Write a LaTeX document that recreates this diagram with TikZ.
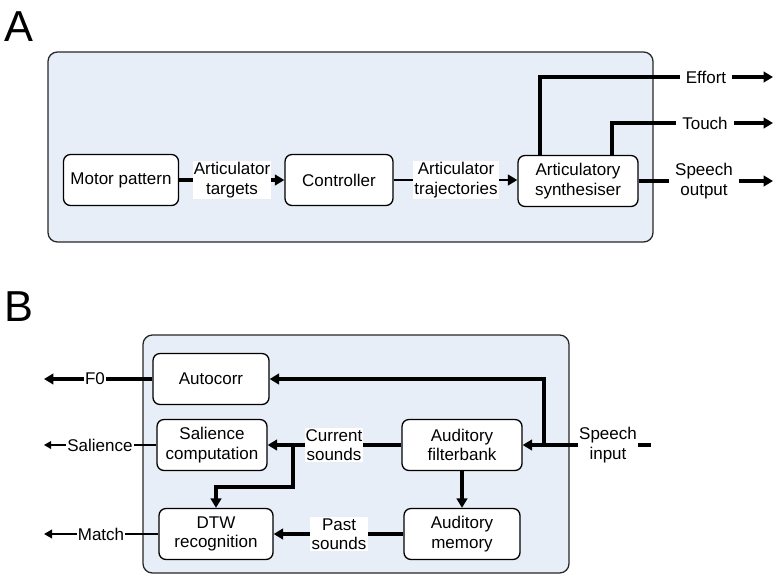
\documentclass[tikz,border=0pt]{standalone}
\usepackage{fontspec}
\setmainfont{Liberation Sans}
\usetikzlibrary{arrows.meta}
\definecolor{panelblue}{RGB}{232,238,248}

\begin{document}
\begin{tikzpicture}[x=0.03cm,y=-0.03cm,
  font=\fontsize{14.5}{16.5}\selectfont,
  panel/.style={draw=black!85,line width=1.1pt,fill=panelblue,rounded corners=8pt},
  block/.style={draw=black,line width=1.1pt,fill=white,rounded corners=6pt,
    minimum height=1.53cm,align=center,inner sep=0pt},
  lbl/.style={fill=white,align=center,inner sep=1pt},
  outlbl/.style={fill=white,align=center,inner ysep=1pt,inner xsep=5pt},
  wire/.style={line width=2.6pt},
  arr/.style={line width=2.6pt,-{Triangle[length=8pt,width=9pt]}}]
\useasboundingbox (0,0) rectangle (778,579);
% Panel letters
\node[anchor=base west,inner sep=0pt,font=\fontsize{37}{37}\selectfont] (letA) at (4,41) {A};
\node[anchor=base west,inner sep=0pt,font=\fontsize{37}{37}\selectfont] (letB) at (4,321) {B};
% Panel A
\draw[panel] (48,52) rectangle (653,242);
\node[block,minimum width=3.45cm] (motor) at (121,180) {Motor pattern};
\node[block,minimum width=3.24cm] (ctrl) at (339,180) {Controller};
\node[block,minimum width=3.6cm] (synth) at (578,181) {Articulatory\\synthesiser};
% Outputs
\node[outlbl] (effort) at (706,77) {Effort};
\node[outlbl] (touch) at (705,123) {Touch};
\node[outlbl] (speech) at (704,181) {Speech\\output};
\coordinate (effbend) at (540,77);
\coordinate (touchbend) at (612,123);
\coordinate (effend) at (773,77);
\coordinate (touchend) at (773,123);
\coordinate (speechend) at (773,181);
% Arrows
\draw[arr] (motor.east) -- (ctrl.west);
\draw[arr,line width=2pt] (ctrl.east) -- (ctrl.east -| synth.west);
\draw[wire,line width=3pt] (synth.north -| effbend) -- (effbend) -- (effort.west);
\draw[wire,line width=3pt] (synth.north -| touchbend) -- (touchbend) -- (touch.west);
\draw[wire] (synth.east) -- (speech.west);
\draw[arr] (effort.east) -- (effend);
\draw[arr] (touch.east) -- (touchend);
\draw[arr] (speech.east) -- (speechend);
% Labels
\node[lbl] (targets) at (232,180) {Articulator\\targets};
\node[lbl] (traj) at (456,180) {Articulator\\trajectories};
% Panel B
\draw[panel] (143,335) rectangle (569,573);
\node[block,minimum width=3.48cm] (autocorr) at (211,379) {Autocorr};
\node[block,minimum width=3.3cm] (salience) at (212,445) {Salience\\computation};
\node[block,minimum width=3.42cm] (dtw) at (216,534) {DTW\\recognition};
\node[block,minimum width=3.6cm] (filter) at (462,445) {Auditory\\filterbank};
\node[block,minimum width=3.48cm] (memory) at (462,534) {Auditory\\memory};
\coordinate (inend) at (651,445);
\coordinate (branch) at (544,445);
\coordinate (cjunc) at (293,445);
\coordinate (cbend) at (293,487);
\coordinate (f0end) at (44,379);
\coordinate (salend) at (44,445);
\coordinate (matchend) at (44,534);
% Arrows
\draw[arr] (inend) -- (filter.east);
\draw[arr] (branch) |- (autocorr.east);
\draw[arr] (filter.west) -- (salience.east);
\draw[arr,line width=3pt] (cjunc) -- (cbend) -| (dtw.north);
\draw[arr] (filter.south) -- (memory.north);
\draw[arr] (memory.west) -- (dtw.east);
\draw[arr] (autocorr.west) -- (f0end);
\draw[line width=1.3pt,-{Triangle[length=6pt,width=6.5pt]}] (salience.west) -- (salend);
\draw[line width=2pt,-{Triangle[length=7pt,width=7.5pt]}] (dtw.west) -- (matchend);
% Labels
\node[lbl] (current) at (334,445) {Current\\sounds};
\node[lbl] (past) at (339,534) {Past\\sounds};
\node[lbl] (speechin) at (608,445) {Speech\\input};
\node[lbl] (f0) at (95,379) {F0};
\node[lbl] (sal) at (100,445) {Salience};
\node[lbl] (match) at (101,534) {Match};
\end{tikzpicture}
\end{document}
